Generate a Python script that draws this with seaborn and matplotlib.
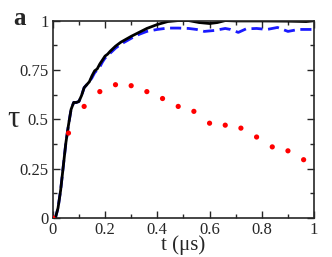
import numpy as np
import pandas as pd
import seaborn as sns
import matplotlib.pyplot as plt
from matplotlib.ticker import MultipleLocator, FuncFormatter

# черная сплошная кривая
t_black = [0.0, 0.01, 0.02, 0.03, 0.04, 0.05, 0.06, 0.07, 0.08, 0.09, 0.10, 0.11, 0.12,
           0.13, 0.14, 0.15, 0.16, 0.17, 0.18, 0.19, 0.20, 0.21, 0.22, 0.24, 0.26, 0.28,
           0.30, 0.33, 0.36, 0.40, 0.44, 0.48, 0.52, 0.56, 0.60, 0.63, 0.66, 0.70, 0.80,
           0.90, 0.97, 1.00]
tau_black = [0.0, 0.0, 0.05, 0.14, 0.26, 0.38, 0.47, 0.55, 0.585, 0.585, 0.59, 0.62, 0.66,
             0.675, 0.69, 0.72, 0.745, 0.755, 0.78, 0.80, 0.82, 0.83, 0.845, 0.87, 0.89, 0.905,
             0.92, 0.94, 0.96, 0.98, 0.995, 1.0, 1.0, 0.99, 0.985, 0.99, 1.0, 0.998, 0.998,
             0.997, 0.995, 1.0]

# синяя пунктирная кривая
t_blue = [0.0, 0.01, 0.02, 0.03, 0.04, 0.05, 0.06, 0.07, 0.08, 0.09, 0.10, 0.11, 0.12,
          0.13, 0.14, 0.15, 0.16, 0.17, 0.18, 0.19, 0.20, 0.22, 0.24, 0.26, 0.28, 0.30,
          0.33, 0.36, 0.40, 0.44, 0.48, 0.52, 0.55, 0.58, 0.62, 0.66, 0.68, 0.71, 0.74,
          0.78, 0.82, 0.86, 0.90, 0.94, 1.00]
tau_blue = [0.0, 0.0, 0.05, 0.14, 0.26, 0.38, 0.47, 0.55, 0.585, 0.585, 0.59, 0.62, 0.66,
            0.675, 0.69, 0.71, 0.735, 0.75, 0.765, 0.79, 0.81, 0.835, 0.86, 0.88, 0.895, 0.91,
            0.93, 0.945, 0.955, 0.962, 0.962, 0.96, 0.955, 0.945, 0.95, 0.96, 0.955, 0.94,
            0.958, 0.96, 0.955, 0.965, 0.945, 0.955, 0.955]

# красные точки
t_red = [0.0, 0.06, 0.12, 0.18, 0.24, 0.30, 0.36, 0.42, 0.48, 0.54, 0.60, 0.66, 0.72,
         0.78, 0.84, 0.90, 0.96]
tau_red = [0.0, 0.43, 0.565, 0.64, 0.675, 0.67, 0.64, 0.605, 0.565, 0.54, 0.48, 0.47,
           0.455, 0.41, 0.36, 0.34, 0.295]

sns.set_style("ticks")
plt.rcParams['font.family'] = ['Liberation Serif', 'DejaVu Serif']

fig = plt.figure(figsize=(3.32, 2.57), dpi=100)
ax = fig.add_axes([0.159, 0.152, 0.787, 0.768])

# синяя снизу, черная поверх
sns.lineplot(x=t_blue, y=tau_blue, ax=ax, color='#1a1aff', lw=2, sort=False)
ax.lines[-1].set_dashes((4, 2))
sns.lineplot(x=t_black, y=tau_black, ax=ax, color='black', lw=2, sort=False)
sns.scatterplot(x=t_red, y=tau_red, ax=ax, color='red', s=14, edgecolor='none', zorder=3)

ax.set_xlim(0, 1)
ax.set_ylim(0, 1)
ax.xaxis.set_major_locator(MultipleLocator(0.2))
ax.xaxis.set_minor_locator(MultipleLocator(0.1))
ax.yaxis.set_major_locator(MultipleLocator(0.25))
ax.yaxis.set_minor_locator(MultipleLocator(0.125))
fmt = FuncFormatter(lambda v, p: '%g' % round(v, 3))
ax.xaxis.set_major_formatter(fmt)
ax.yaxis.set_major_formatter(fmt)
ax.tick_params(which='both', direction='in', top=True, right=True, labelsize=12, pad=3)
ax.tick_params(which='major', length=5, width=1)
ax.tick_params(which='minor', length=3, width=1)
for sp in ax.spines.values():
    sp.set_linewidth(1.2)

ax.set_xlabel('t (μs)', fontsize=15, labelpad=-2)
ax.set_ylabel('τ', fontsize=22, rotation=0, va='center', ha='center')
ax.yaxis.set_label_coords(-0.15, 0.5)
fig.text(0.039, 0.903, 'a', fontsize=18, fontweight='bold')

fig.savefig('out.png', dpi=100)
